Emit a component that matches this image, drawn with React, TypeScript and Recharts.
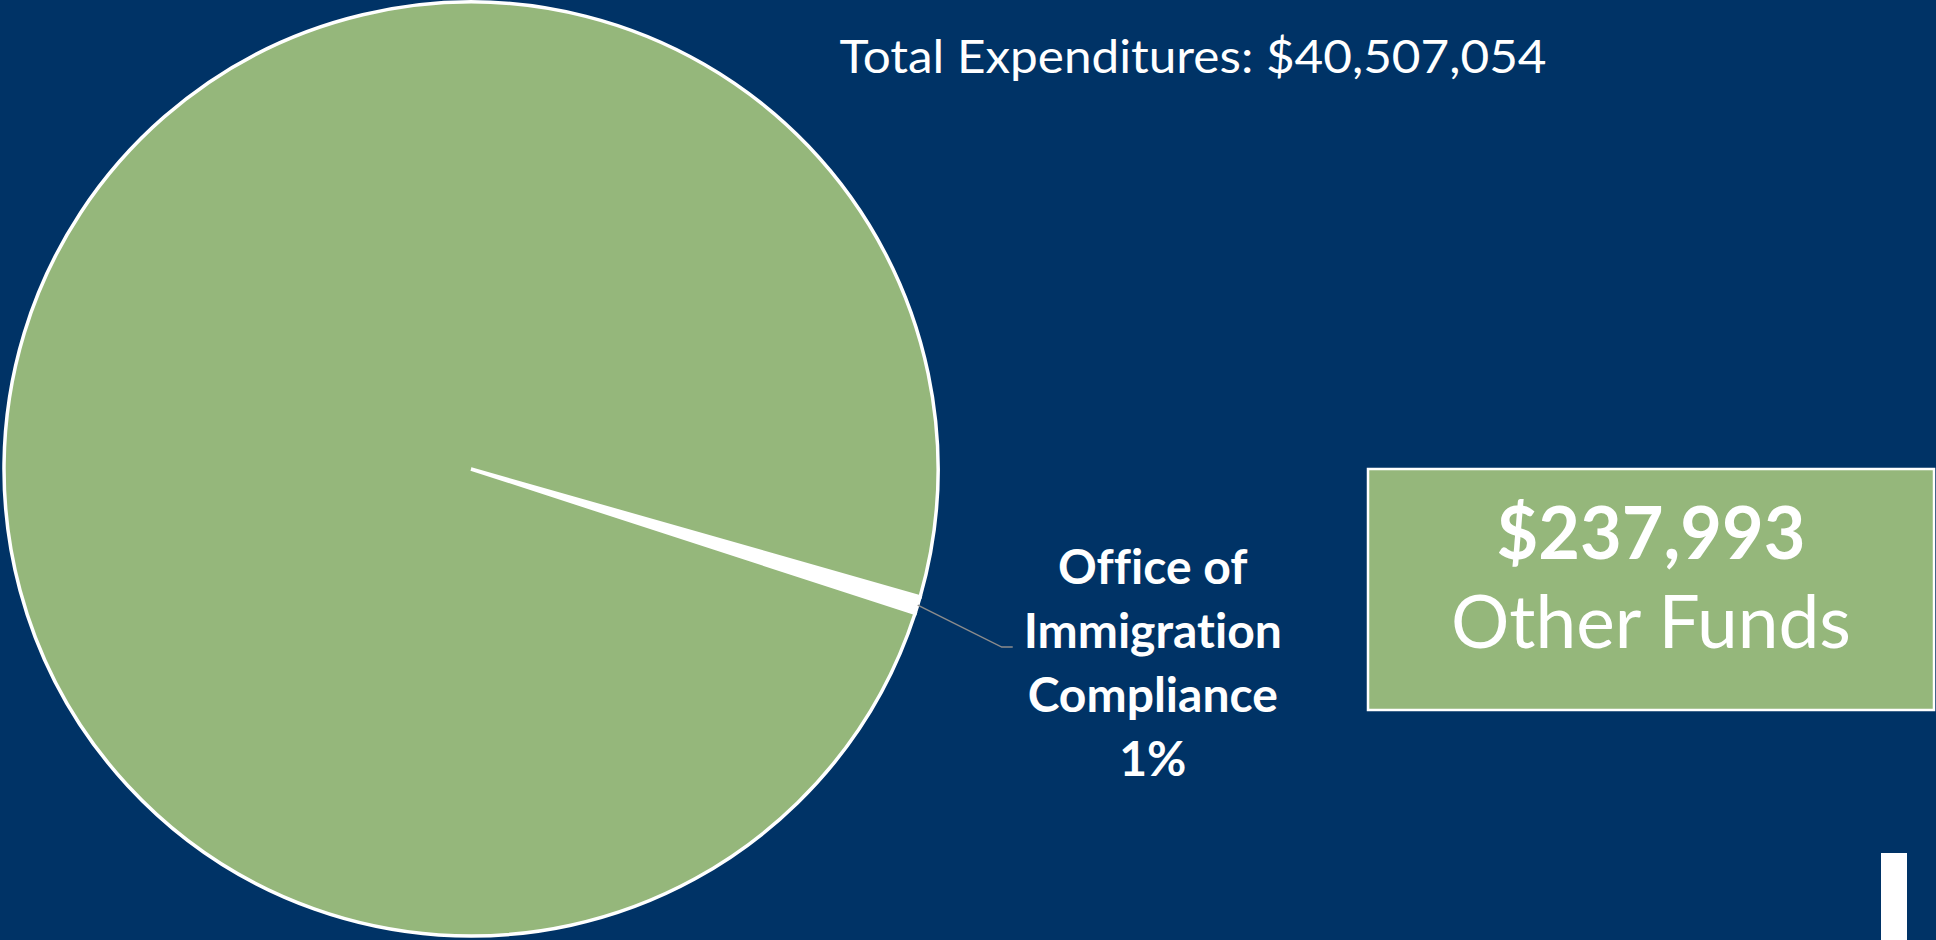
import { Customized, Pie, PieChart, Cell } from "recharts";

const sliceNames = ["Office of Immigration Compliance", "All Other"];
const sliceValues = [237993, 40269061];
const sliceColors = ["#FFFFFF", "#95B77B"];
const labelLines = ["Office of", "Immigration", "Compliance"];
const totalExpenditures = 40507054;
const otherFunds = 237993;
const otherFundsLabel = "Other Funds";

const BG = "#003366";
const GREEN = "#95B77B";
const FONT = "Lato, 'Open Sans', sans-serif";
const RAD = Math.PI / 180;

const data = sliceNames.map((name, i) => ({ name, value: sliceValues[i] }));

function money(n: number): string {
  return `$${n.toLocaleString("en-US")}`;
}

function SliceLabel(props: any) {
  const { cx, cy, midAngle, outerRadius, percent, index } = props;
  if (index !== 0) return null;
  const sx = cx + outerRadius * Math.cos(-midAngle * RAD);
  const sy = cy + outerRadius * Math.sin(-midAngle * RAD);
  const ex = sx + 84;
  const ey = sy + 42;
  const tx = ex + 11;
  const lines = [...labelLines, `${Math.round(percent * 100)}%`];
  return (
    <g>
      <polyline
        points={`${sx},${sy} ${ex},${ey} ${tx},${ey}`}
        fill="none"
        stroke="#8C8C8C"
        strokeWidth={1.5}
      />
      {lines.map((line, i) => (
        <text
          key={line}
          x={tx + 140}
          y={ey + (i - 1) * 64 + 1}
          textAnchor="middle"
          fill="#FFFFFF"
          fontFamily={FONT}
          fontWeight={700}
          fontSize={48}
          style={{ fontVariantLigatures: "none" }}
        >
          {line}
        </text>
      ))}
    </g>
  );
}

function Extras() {
  return (
    <g>
      <text
        x={1193}
        y={73}
        textAnchor="middle"
        fill="#FFFFFF"
        fontFamily={FONT}
        fontSize={46}
        textLength={707}
        lengthAdjust="spacingAndGlyphs"
      >
        {`Total Expenditures: ${money(totalExpenditures)}`}
      </text>
      <rect x={1368} y={469} width={566} height={241} fill={GREEN} stroke="#FFFFFF" strokeWidth={2.5} />
      <text x={1651} y={559} textAnchor="middle" fill="#FFFFFF" fontFamily={FONT} fontWeight={700} fontSize={72}>
        {money(otherFunds)}
      </text>
      <text x={1651} y={648} textAnchor="middle" fill="#FFFFFF" fontFamily={FONT} fontSize={73}>
        {otherFundsLabel}
      </text>
      <rect x={1881} y={853} width={26} height={87} fill="#FFFFFF" />
    </g>
  );
}

export default function App() {
  return (
    <div style={{ width: 1936, height: 940, background: BG }}>
      <style>{"body{margin:0;}"}</style>
      <PieChart width={1936} height={940} margin={{ top: 0, right: 0, bottom: 0, left: 0 }}>
        <Pie
          data={data}
          dataKey="value"
          nameKey="name"
          cx={471}
          cy={469}
          outerRadius={467}
          startAngle={-18}
          endAngle={342}
          stroke="#FFFFFF"
          strokeWidth={3.5}
          label={SliceLabel}
          labelLine={false}
          isAnimationActive={false}
        >
          {data.map((d, i) => (
            <Cell key={d.name} fill={sliceColors[i]} />
          ))}
        </Pie>
        <Customized component={Extras} />
      </PieChart>
    </div>
  );
}
